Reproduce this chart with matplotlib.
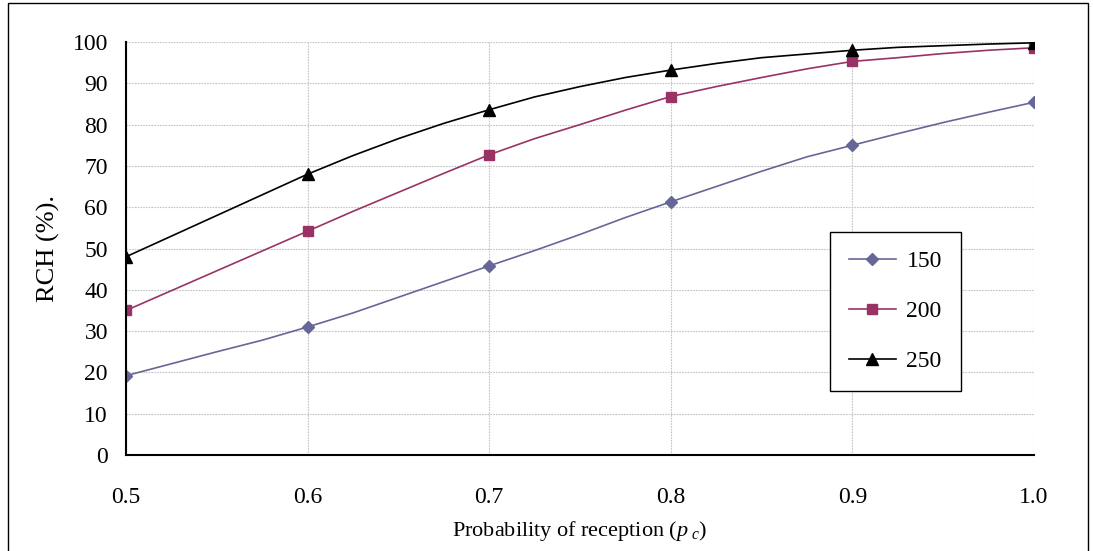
import numpy as np
import matplotlib.pyplot as plt
from matplotlib.patches import Rectangle

plt.rcParams['font.family'] = ['Liberation Serif', 'DejaVu Serif']
plt.rcParams['mathtext.fontset'] = 'custom'
plt.rcParams['mathtext.it'] = 'Liberation Serif:italic'
plt.rcParams['mathtext.rm'] = 'Liberation Serif'

# probability of reception, sampled every 0.025 (markers every 0.1)
pc = [0.5, 0.525, 0.55, 0.575, 0.6, 0.625, 0.65, 0.675, 0.7, 0.725, 0.75,
      0.775, 0.8, 0.825, 0.85, 0.875, 0.9, 0.925, 0.95, 0.975, 1.0]

rch_150 = [19.2, 22.1, 25.0, 27.8, 31.0, 34.4, 38.2, 42.0, 45.8, 49.5, 53.4,
           57.5, 61.3, 65.0, 68.7, 72.2, 75.0, 77.8, 80.5, 83.0, 85.4]
rch_200 = [35.0, 39.8, 44.6, 49.4, 54.2, 59.0, 63.6, 68.2, 72.7, 76.6, 80.0,
           83.5, 86.8, 89.2, 91.4, 93.5, 95.3, 96.2, 97.2, 98.0, 98.6]
rch_250 = [48.0, 53.0, 58.0, 63.0, 68.0, 72.5, 76.6, 80.3, 83.6, 86.7, 89.2,
           91.4, 93.2, 94.8, 96.2, 97.1, 98.0, 98.7, 99.1, 99.5, 99.8]

labels = ['150', '200', '250']
xticks = [0.5, 0.6, 0.7, 0.8, 0.9, 1.0]

fig = plt.figure(figsize=(10.93, 5.51), dpi=100)
ax = fig.add_axes([0.1153, 0.1742, 0.8307, 0.7496])

ax.plot(pc, rch_150, color='#666699', lw=1.2, marker='D', ms=6, markevery=4, label=labels[0])
ax.plot(pc, rch_200, color='#993366', lw=1.2, marker='s', ms=6.5, markevery=4, label=labels[1])
ax.plot(pc, rch_250, color='black', lw=1.2, marker='^', ms=8, markevery=4, label=labels[2])

ax.set_xlim(0.5, 1.0)
ax.set_ylim(0, 100)
ax.set_xticks(xticks)
ax.set_xticklabels(['%.1f' % t for t in xticks])
ax.set_yticks(range(0, 101, 10))
ax.tick_params(length=0, labelsize=17)
ax.tick_params(axis='x', pad=23)
ax.tick_params(axis='y', pad=13)
ax.grid(True, color='#c4c4c4', ls=(0, (1.5, 1)), lw=0.8)
ax.set_axisbelow(True)
for s in ['top', 'right']:
    ax.spines[s].set_visible(False)
for s in ['left', 'bottom']:
    ax.spines[s].set_linewidth(1.5)

ax.set_ylabel('RCH (%).', fontsize=19, labelpad=9)
ax.set_xlabel(r'Probability of reception ($p_{\ c}$)', fontsize=16, labelpad=8)

leg = ax.legend(loc='upper left', bbox_to_anchor=(0.775, 0.540), fontsize=17,
                frameon=True, fancybox=False, edgecolor='black', framealpha=1,
                labelspacing=1.2, handlelength=2.0, handletextpad=0.45,
                borderpad=0.8, borderaxespad=0)
leg.get_frame().set_linewidth(1.0)

# outer frame around the chart area
fig.patches.append(Rectangle((0.007, -0.01), 0.988, 1.004, transform=fig.transFigure,
                             fill=False, edgecolor='black', lw=1.0))

fig.savefig('out.png', dpi=100)
